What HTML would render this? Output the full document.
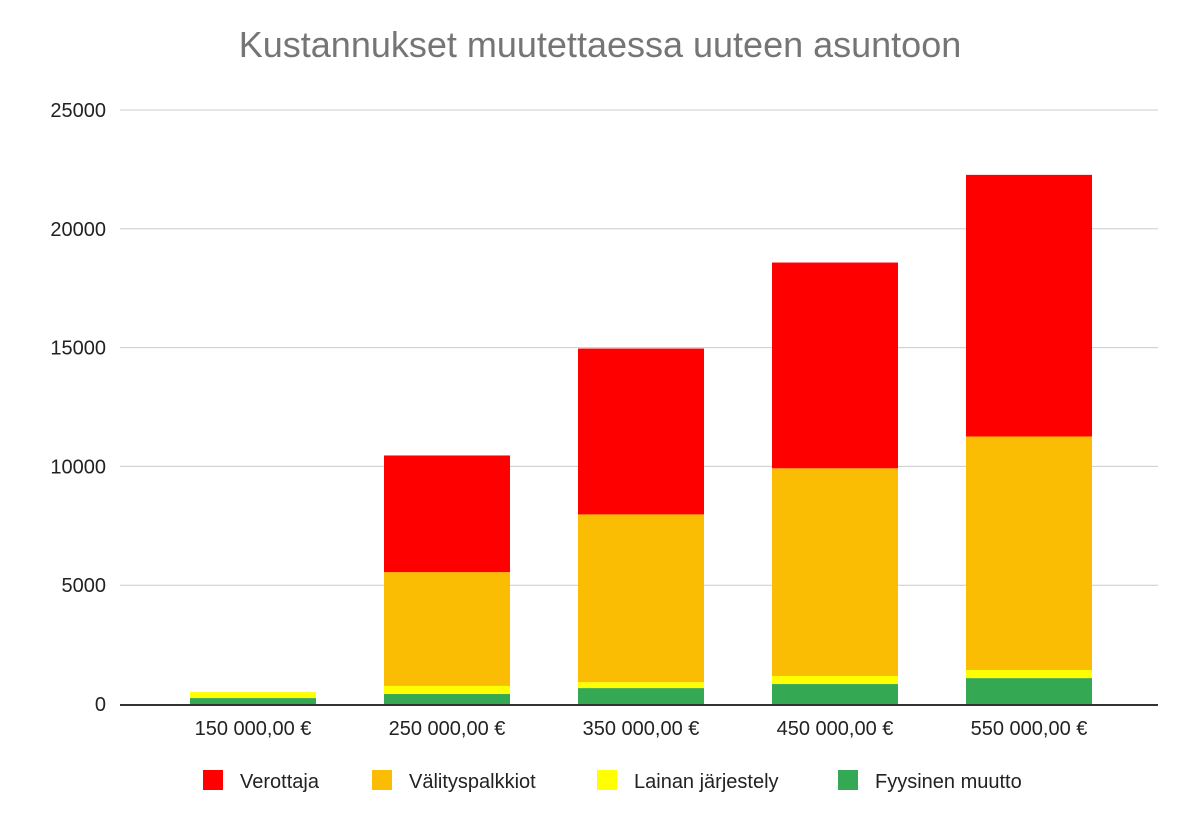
<!DOCTYPE html>
<html><head><meta charset="utf-8"><style>
body{margin:0;background:#fff;font-family:"Liberation Sans",Arial,sans-serif}
</style></head><body>
<svg id="c" width="1200" height="826" xmlns="http://www.w3.org/2000/svg">
<rect width="1200" height="826" fill="#fff"/>
<text x="600" y="57" text-anchor="middle" font-size="36" fill="#757575">Kustannukset muutettaessa uuteen asuntoon</text>
</svg>
<script>
const categories=["150 000,00 €","250 000,00 €","350 000,00 €","450 000,00 €","550 000,00 €"];
const fyysinen=[250,420,670,840,1090];
const lainan=[250,340,250,340,340];
const valitys=[0,4790,7060,8740,9830];
const verottaja=[0,4910,6980,8660,11010];
const yTicks=[0,5000,10000,15000,20000,25000];
const seriesNames=["Verottaja","Välityspalkkiot","Lainan järjestely","Fyysinen muutto"];
const NS="http://www.w3.org/2000/svg",svg=document.getElementById('c');
const x0=120,x1=1158,yb=704,yt=110,ymax=25000;
const y=v=>yb-(v/ymax)*(yb-yt);
const band=(x1-x0)/categories.length+0.6;
const xc=i=>253+i*194;
function el(t,a){const e=document.createElementNS(NS,t);for(const k in a)e.setAttribute(k,a[k]);svg.appendChild(e);return e;}
yTicks.forEach(t=>{
 if(t>0){const l=el('line',{x1:x0,x2:x1,y1:y(t),y2:y(t),stroke:'#ccc','stroke-width':1});
 
 }
 const tx=el('text',{x:106,y:y(t)+7,'text-anchor':'end','font-size':20,fill:'#222'});tx.textContent=t;
 
 
});
const series=[[fyysinen,'#34a853','fyysinen'],[lainan,'#ffff00','lainan'],[valitys,'#fbbc04','valitys'],[verottaja,'#ff0000','verottaja']];
categories.forEach((c,i)=>{
 let acc=0;
 series.forEach(([arr,col,nm])=>{
  const v=arr[i];if(v<=0)return;
  const r=el('rect',{x:xc(i)-63,width:126,y:y(acc+v),height:y(acc)-y(acc+v),fill:col});
  
  
  acc+=v;
 });
 const tx=el('text',{x:xc(i),y:735,'text-anchor':'middle','font-size':20,fill:'#222'});tx.textContent=c;
 
 
});
const ax=el('line',{x1:x0,x2:x1,y1:yb+1,y2:yb+1,stroke:'#333','stroke-width':2});


const lx=[203,372,597,838],lc=['#ff0000','#fbbc04','#ffff00','#34a853'];
seriesNames.forEach((n,i)=>{
 const r=el('rect',{x:lx[i],y:770,width:20,height:20,fill:lc[i]});
 
 
 const t=el('text',{x:lx[i]+37,y:788,'font-size':20,fill:'#222'});t.textContent=n;
 
 
});
</script>
</body></html>
